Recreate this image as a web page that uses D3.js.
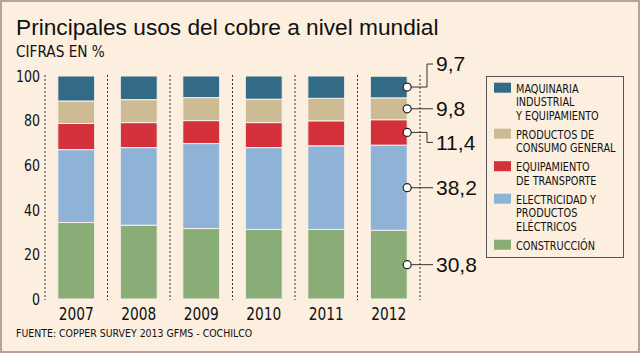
<!DOCTYPE html>
<html>
<head>
<meta charset="utf-8">
<script src="https://cdn.jsdelivr.net/npm/d3@7"></script>
<style>
  body { margin: 0; background: #fcefdf; }
  svg { display: block; }
  .narrow { font-family: "DejaVu Sans Condensed", sans-serif; }
</style>
</head>
<body>
<div id="chart"></div>
<script>
// data (percent of world copper use)
var years = ["2007", "2008", "2009", "2010", "2011", "2012"];
var construccion = [34.3, 33.1, 31.6, 31.2, 31.2, 30.8];
var electricidad = [32.7, 34.8, 38.1, 36.7, 37.5, 38.2];
var transporte   = [11.7, 11.2, 10.3, 11.2, 11.2, 11.4];
var consumo      = [10.1, 10.3, 10.3, 10.5, 10.1, 9.8];
var maquinaria   = [11.2, 10.6, 9.7, 10.4, 10.0, 9.7];
var yTicks = [0, 20, 40, 60, 80, 100];

var keys = ["construccion", "electricidad", "transporte", "consumo", "maquinaria"];
var colors = {
  construccion: "#8aad77",
  electricidad: "#8fb3d6",
  transporte: "#d4323b",
  consumo: "#cdbc93",
  maquinaria: "#336b87"
};
var legendItems = [
  {key: "maquinaria", lines: ["MAQUINARIA", "INDUSTRIAL", "Y EQUIPAMIENTO"]},
  {key: "consumo", lines: ["PRODUCTOS DE", "CONSUMO GENERAL"]},
  {key: "transporte", lines: ["EQUIPAMIENTO", "DE TRANSPORTE"]},
  {key: "electricidad", lines: ["ELECTRICIDAD Y", "PRODUCTOS", "ELÉCTRICOS"]},
  {key: "construccion", lines: ["CONSTRUCCIÓN"]}
];

var table = years.map(function(y, i) {
  return {year: y, construccion: construccion[i], electricidad: electricidad[i],
          transporte: transporte[i], consumo: consumo[i], maquinaria: maquinaria[i]};
});

var width = 640, height = 353;
var squeeze = 0.85; // the source font is narrower than anything installed

var svg = d3.select("#chart").append("svg")
    .attr("width", width)
    .attr("height", height);

// frame
svg.append("rect")
    .attr("x", 1).attr("y", 1)
    .attr("width", width - 2).attr("height", height - 2)
    .attr("fill", "#fcefdf")
    .attr("stroke", "#b8a39a")
    .attr("stroke-width", 2);

svg.append("text")
    .attr("x", 16).attr("y", 35)
    .attr("font-family", "Liberation Sans, Arial, sans-serif")
    .attr("font-size", 22.7)
    .attr("fill", "#111")
    .text("Principales usos del cobre a nivel mundial");

svg.append("text")
    .attr("class", "narrow")
    .attr("x", 16).attr("y", 57)
    .attr("font-size", 15.2)
    .attr("fill", "#111")
    .text("CIFRAS EN %");

var x = d3.scaleBand()
    .domain(years)
    .range([45, 420])
    .paddingInner(0.41)
    .paddingOuter(0.205);

var y = d3.scaleLinear()
    .domain([0, 100])
    .range([299, 76]);

// dotted separators
var step = x.step();
var seps = d3.range(years.length + 1).map(function(i) { return 45 + i * step; });
svg.append("g").selectAll("line")
    .data(seps)
  .enter().append("line")
    .attr("x1", function(d) { return d; })
    .attr("x2", function(d) { return d; })
    .attr("y1", y(100) - 1)
    .attr("y2", y(0) + 1)
    .attr("stroke", "#333")
    .attr("stroke-width", 1)
    .attr("stroke-dasharray", "2,2");

var series = d3.stack().keys(keys)(table);

svg.append("g").selectAll("g")
    .data(series)
  .enter().append("g")
    .attr("fill", function(d) { return colors[d.key]; })
  .selectAll("rect")
    .data(function(d) { return d; })
  .enter().append("rect")
    .attr("x", function(d) { return x(d.data.year); })
    .attr("y", function(d) { return y(d[1]); })
    .attr("width", x.bandwidth())
    .attr("height", function(d) { return y(d[0]) - y(d[1]); })
    .attr("stroke", "#f6f1ea")
    .attr("stroke-width", 1);

// axes
var yAxis = svg.append("g")
    .attr("class", "narrow")
    .attr("transform", "translate(45,0)")
    .call(d3.axisLeft(y).tickValues(yTicks).tickSize(0).tickPadding(5));
yAxis.select(".domain").remove();
yAxis.selectAll("text")
    .attr("font-size", 16.5)
    .attr("fill", "#111")
    .attr("font-family", null)
    .attr("x", -5 / squeeze)
    .attr("transform", "scale(" + squeeze + ",1)");

var xAxis = svg.append("g")
    .attr("class", "narrow")
    .attr("transform", "translate(0," + y(0) + ")")
    .call(d3.axisBottom(x).tickSize(0).tickPadding(8));
xAxis.select(".domain").remove();
xAxis.selectAll("text")
    .attr("font-size", 18)
    .attr("fill", "#111")
    .attr("font-family", null)
    .attr("transform", "scale(" + squeeze + ",1)");

// callouts for the last year
var last = years.length - 1;
var fmt = function(v) { return d3.format(".1f")(v).replace(".", ","); };
var labelOffset = {maquinaria: -23, consumo: 0, transporte: 10, electricidad: 0, construccion: 0};
var cx = x(years[last]) + x.bandwidth();

var callouts = series.map(function(s) {
  var d = s[last];
  return {key: s.key, value: d[1] - d[0], cy: y((d[0] + d[1]) / 2)};
});

var cg = svg.append("g");
cg.selectAll("path")
    .data(callouts)
  .enter().append("path")
    .attr("fill", "none")
    .attr("stroke", "#333")
    .attr("stroke-width", 1)
    .attr("d", function(d) {
      var off = labelOffset[d.key];
      if (off === 0) return "M" + cx + "," + d.cy + "H433";
      return "M" + cx + "," + d.cy + "H427V" + (d.cy + off) + "H433";
    });

cg.selectAll("circle")
    .data(callouts)
  .enter().append("circle")
    .attr("cx", cx)
    .attr("cy", function(d) { return d.cy; })
    .attr("r", 4)
    .attr("fill", "#fff")
    .attr("stroke", "#222")
    .attr("stroke-width", 1.2);

cg.selectAll("text")
    .data(callouts)
  .enter().append("text")
    .attr("x", 436)
    .attr("y", function(d) { return d.cy + labelOffset[d.key] + 7.3; })
    .attr("font-family", "Liberation Sans, Arial, sans-serif")
    .attr("font-size", 21)
    .attr("fill", "#111")
    .text(function(d) { return fmt(d.value); });

// legend
svg.append("rect")
    .attr("x", 486.5).attr("y", 76.5)
    .attr("width", 137).attr("height", 181)
    .attr("fill", "#fcefdf")
    .attr("stroke", "#555")
    .attr("stroke-width", 1);

var lineH = 13.5, gap = 19, base = 92.7;
legendItems.forEach(function(item) {
  item.base = base;
  base += (item.lines.length - 1) * lineH + gap;
});

var lg = svg.append("g").attr("class", "narrow");
var li = lg.selectAll("g")
    .data(legendItems)
  .enter().append("g");

li.append("rect")
    .attr("x", 494)
    .attr("y", function(d) { return d.base - 10; })
    .attr("width", 17)
    .attr("height", 10)
    .attr("fill", function(d) { return colors[d.key]; });

li.append("text")
    .attr("transform", "translate(516,0) scale(0.9,1)")
    .attr("font-size", 12)
    .attr("fill", "#111")
    .selectAll("tspan")
    .data(function(d) { return d.lines.map(function(l, i) { return {t: l, y: d.base + i * lineH}; }); })
  .enter().append("tspan")
    .attr("x", 0)
    .attr("y", function(d) { return d.y; })
    .text(function(d) { return d.t; });

svg.append("text")
    .attr("class", "narrow")
    .attr("transform", "translate(16,337) scale(0.95,1)")
    .attr("font-size", 11)
    .attr("fill", "#111")
    .text("FUENTE: COPPER SURVEY 2013 GFMS - COCHILCO");
</script>
</body>
</html>
